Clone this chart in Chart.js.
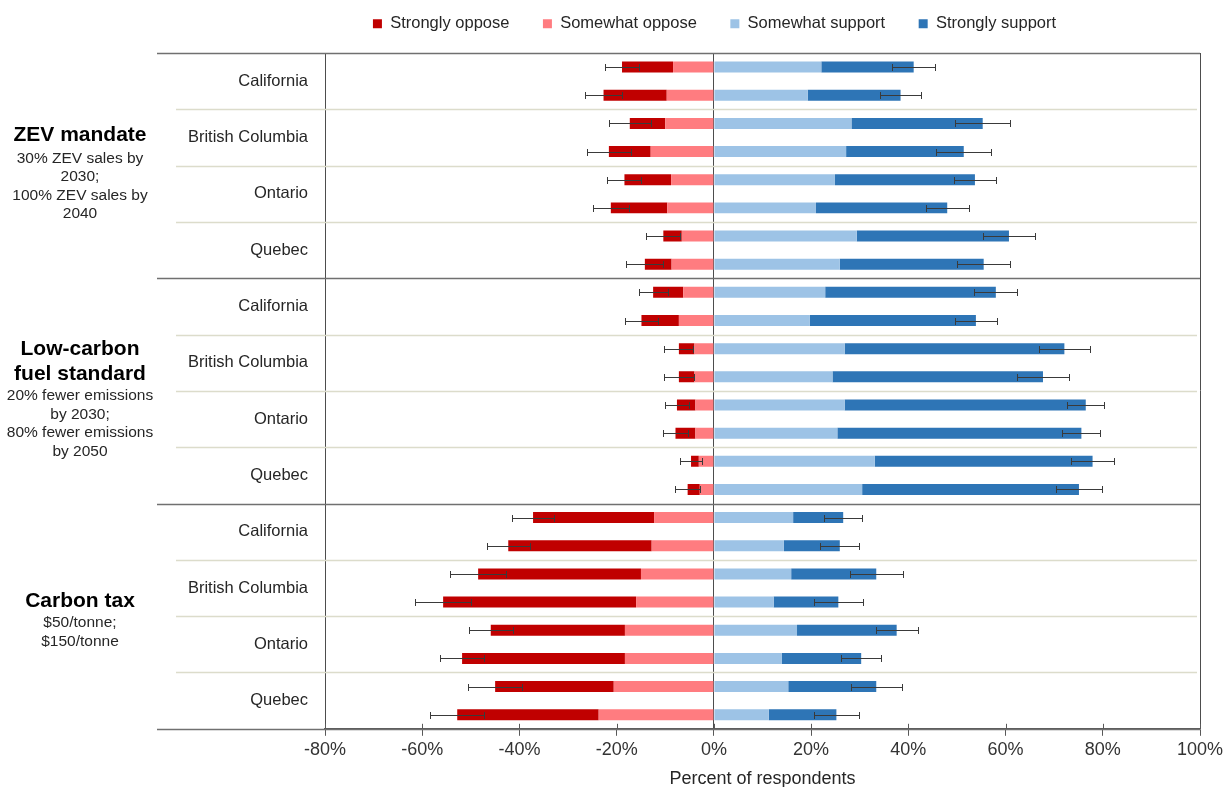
<!DOCTYPE html>
<html>
<head>
<meta charset="utf-8">
<script src="https://cdn.jsdelivr.net/npm/chart.js@4/dist/chart.umd.min.js"></script>
<style>
  html, body { margin: 0; padding: 0; background: #ffffff; }
  canvas { display: block; }
</style>
</head>
<body>
<canvas id="chart" width="1229" height="787"></canvas>
<script>
// Policies, regions and stringency levels (one bar per combination)
const policyNames = ['ZEV mandate', 'Low-carbon fuel standard', 'Carbon tax'];
const policyTitleLines = [['ZEV mandate'], ['Low-carbon', 'fuel standard'], ['Carbon tax']];
const policyDetailLines = [
  ['30% ZEV sales by', '2030;', '100% ZEV sales by', '2040'],
  ['20% fewer emissions', 'by 2030;', '80% fewer emissions', 'by 2050'],
  ['$50/tonne;', '$150/tonne']
];
const regions = ['California', 'British Columbia', 'Ontario', 'Quebec'];
const stringencyLevels = ['Moderate', 'Stringent'];

// Share of respondents (%) for each bar, top to bottom
const stronglyOppose  = [10.5, 13.0, 7.3, 8.6, 9.6, 11.6, 3.8, 5.5,
                         6.2, 7.7, 3.2, 3.2, 3.8, 4.1, 1.6, 2.5,
                         24.9, 29.5, 33.5, 39.7, 27.6, 33.5, 24.4, 29.1];
const somewhatOppose  = [8.4, 9.7, 10.0, 13.0, 8.8, 9.6, 6.6, 8.7,
                         6.3, 7.2, 4.0, 4.0, 3.8, 3.8, 3.1, 2.9,
                         12.3, 12.8, 15.0, 16.0, 18.3, 18.3, 20.6, 23.7];
const somewhatSupport = [22.1, 19.3, 28.3, 27.2, 24.9, 21.0, 29.4, 25.9,
                         22.9, 19.7, 26.9, 24.4, 26.9, 25.4, 33.1, 30.5,
                         16.3, 14.4, 15.9, 12.3, 17.1, 14.0, 15.3, 11.3];
const stronglySupport = [19.0, 19.1, 27.0, 24.2, 28.8, 27.0, 31.3, 29.6,
                         35.1, 34.2, 45.2, 43.3, 49.6, 50.2, 44.8, 44.6,
                         10.3, 11.5, 17.5, 13.3, 20.5, 16.3, 18.1, 13.9];
// Confidence half-widths (%) on total opposition and total support
const opposeError  = [3.5, 3.8, 4.3, 4.6, 3.5, 3.7, 3.5, 3.8,
                      3.0, 3.4, 3.0, 3.1, 2.4, 2.5, 2.3, 2.5,
                      4.4, 4.4, 5.7, 5.7, 4.5, 4.5, 5.5, 5.5];
const supportError = [4.4, 4.3, 5.7, 5.7, 4.4, 4.4, 5.3, 5.5,
                      4.4, 4.4, 5.2, 5.3, 3.8, 3.9, 4.5, 4.8,
                      3.9, 4.0, 5.4, 5.0, 4.3, 4.1, 5.2, 4.7];
const xTicks = [-80, -60, -40, -20, 0, 20, 40, 60, 80, 100];

const categories = [];
policyNames.forEach(p => regions.forEach(r => stringencyLevels.forEach(s =>
  categories.push(p + ' | ' + r + ' | ' + s))));

const FONT = '"Liberation Sans", Arial, Helvetica, sans-serif';
const legendOrder = ['Strongly oppose', 'Somewhat oppose', 'Somewhat support', 'Strongly support'];

// Row separators, region names and policy descriptions in the left panel
const tablePlugin = {
  id: 'tableLayout',
  beforeDatasetsDraw(chart) {
    const {ctx, chartArea, scales: {y}} = chart;
    ctx.save();
    for (let k = 0; k <= categories.length; k += 2) {
      const yy = Math.round(y.getPixelForValue(k - 0.5)) + 0.5;
      ctx.beginPath();
      if (k % 8 === 0) {
        ctx.strokeStyle = '#707070';
        ctx.lineWidth = 1.6;
        ctx.moveTo(chartArea.left - 168, yy);
        ctx.lineTo(chartArea.right, yy);
      } else {
        ctx.strokeStyle = '#dcdccb';
        ctx.lineWidth = 1.6;
        ctx.moveTo(chartArea.left - 149, yy);
        ctx.lineTo(chartArea.right - 3, yy);
      }
      ctx.stroke();
    }
    ctx.restore();
  },
  afterDraw(chart) {
    const {ctx, chartArea, scales: {x, y}} = chart;
    ctx.save();
    // cross tick marks: short upward part above the value axis
    ctx.strokeStyle = '#595959';
    ctx.lineWidth = 1;
    ctx.beginPath();
    xTicks.forEach(v => {
      const px = Math.round(x.getPixelForValue(v)) + 0.5;
      ctx.moveTo(px, chartArea.bottom - 5);
      ctx.lineTo(px, chartArea.bottom);
    });
    ctx.stroke();

    ctx.textBaseline = 'middle';
    // region names, centred on each pair of bars
    ctx.fillStyle = '#262626';
    ctx.font = '16.5px ' + FONT;
    ctx.textAlign = 'right';
    policyNames.forEach((p, pi) => {
      regions.forEach((r, ri) => {
        const idx = pi * 8 + ri * 2;
        ctx.fillText(r, chartArea.left - 17, y.getPixelForValue(idx + 0.5));
      });
    });
    // policy titles and details
    const lineOffsets = [
      [-30, -7, 11.5, 30, 48.5],
      [-42, -17, 5, 23.5, 42, 60.5],
      [-15, 7, 26]
    ];
    ctx.textAlign = 'center';
    const cx = chartArea.left - 245;
    policyNames.forEach((p, pi) => {
      const cy = y.getPixelForValue(pi * 8 + 3.5);
      let li = 0;
      ctx.fillStyle = '#000000';
      ctx.font = 'bold 21px ' + FONT;
      policyTitleLines[pi].forEach(t => ctx.fillText(t, cx, cy + lineOffsets[pi][li++]));
      ctx.fillStyle = '#262626';
      ctx.font = '15.5px ' + FONT;
      policyDetailLines[pi].forEach(t => ctx.fillText(t, cx, cy + lineOffsets[pi][li++]));
    });
    ctx.restore();
  }
};

// Error bars at the ends of the total-oppose and total-support bars
const errorBarPlugin = {
  id: 'errorBars',
  afterDatasetsDraw(chart) {
    const {ctx, scales: {x, y}} = chart;
    ctx.save();
    ctx.strokeStyle = '#3a3a3a';
    ctx.lineWidth = 1;
    const cap = 3.5;
    categories.forEach((_, i) => {
      const yc = Math.round(y.getPixelForValue(i)) + 0.5;
      const oppTotal = -(stronglyOppose[i] + somewhatOppose[i]);
      const supTotal = somewhatSupport[i] + stronglySupport[i];
      [[oppTotal, opposeError[i]], [supTotal, supportError[i]]].forEach(([v, e]) => {
        const x1 = Math.round(x.getPixelForValue(v - e)) + 0.5;
        const x2 = Math.round(x.getPixelForValue(v + e)) + 0.5;
        ctx.beginPath();
        ctx.moveTo(x1, yc); ctx.lineTo(x2, yc);
        ctx.moveTo(x1, yc - cap); ctx.lineTo(x1, yc + cap);
        ctx.moveTo(x2, yc - cap); ctx.lineTo(x2, yc + cap);
        ctx.stroke();
      });
    });
    ctx.restore();
  }
};

const barStyle = { borderWidth: 0, barPercentage: 0.39, categoryPercentage: 1.0 };

new Chart(document.getElementById('chart'), {
  type: 'bar',
  data: {
    labels: categories,
    datasets: [
      Object.assign({ label: 'Somewhat oppose', data: somewhatOppose.map(v => -v), backgroundColor: '#ff7c80' }, barStyle),
      Object.assign({ label: 'Strongly oppose', data: stronglyOppose.map(v => -v), backgroundColor: '#c00000' }, barStyle),
      Object.assign({ label: 'Somewhat support', data: somewhatSupport, backgroundColor: '#9dc3e6' }, barStyle),
      Object.assign({ label: 'Strongly support', data: stronglySupport, backgroundColor: '#2e75b6' }, barStyle)
    ]
  },
  options: {
    indexAxis: 'y',
    responsive: false,
    animation: false,
    devicePixelRatio: 1,
    layout: { padding: { left: 229, right: 29, top: -18, bottom: -3 } },
    plugins: {
      legend: {
        position: 'top',
        labels: {
          boxWidth: 9,
          boxHeight: 9,
          padding: 33.5,
          color: '#262626',
          font: { family: FONT, size: 16.5 },
          sort: (a, b) => legendOrder.indexOf(a.text) - legendOrder.indexOf(b.text)
        }
      },
      tooltip: { enabled: false }
    },
    scales: {
      x: {
        type: 'linear',
        stacked: true,
        min: -80,
        max: 100,
        afterBuildTicks: (scale) => { scale.ticks = xTicks.map(v => ({ value: v })); },
        ticks: {
          callback: v => v + '%',
          color: '#333333',
          font: { family: FONT, size: 18 },
          padding: 3,
          maxRotation: 0
        },
        grid: {
          color: c => (c.tick && [-80, 0, 100].includes(c.tick.value)) ? '#4d4d4d' : 'rgba(0,0,0,0)',
          tickColor: '#595959',
          tickLength: 7,
          lineWidth: 1
        },
        border: { display: true, color: '#595959', width: 1.5 },
        title: {
          display: true,
          text: 'Percent of respondents',
          color: '#262626',
          font: { family: FONT, size: 18 },
          padding: { top: 5, bottom: 0 }
        }
      },
      // blank spacer axis between the legend and the plot frame
      xTop: {
        type: 'linear',
        axis: 'x',
        position: 'top',
        min: -80,
        max: 100,
        ticks: { display: false },
        grid: { display: false, drawTicks: false },
        border: { display: false },
        afterFit: (scale) => { scale.height = 11; }
      },
      y: {
        type: 'category',
        stacked: true,
        ticks: { display: false },
        grid: { display: false },
        border: { display: false },
        afterFit: (scale) => { scale.width = 96; }
      }
    }
  },
  plugins: [tablePlugin, errorBarPlugin]
});
</script>
</body>
</html>
